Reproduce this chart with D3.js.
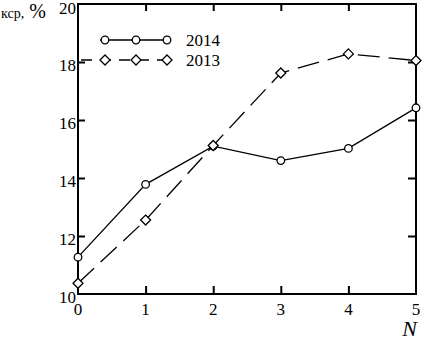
<!DOCTYPE html>
<meta charset="utf-8">
<style>
    body { margin: 0; background: #fff; }
</style>
<svg width="424" height="341" style="font-family: 'Liberation Serif', 'DejaVu Serif', serif;"></svg>
<script src="https://cdn.jsdelivr.net/npm/d3@7/dist/d3.min.js"></script>
<script>
    // data
    var nValues = [0, 1, 2, 3, 4, 5];
    var series2014 = [11.27, 13.78, 15.1, 14.6, 15.02, 16.42];
    var series2013 = [10.37, 12.55, 15.12, 17.62, 18.28, 18.05];
    var yTicks = [10, 12, 14, 16, 18, 20];
    var legendLabels = ["2014", "2013"];

    (function () {
        var svg = d3.select("svg"),
            font = "'Liberation Serif', 'DejaVu Serif', serif",
            left = 78, right = 416, top = 4, bottom = 294,
            x = d3.scaleLinear().domain([0, 5]).range([left, right]),
            y = d3.scaleLinear().domain([10, 20]).range([bottom, top]);

        // frame
        svg.append("rect")
            .attr("x", left).attr("y", top)
            .attr("width", right - left).attr("height", bottom - top)
            .attr("fill", "none").attr("stroke", "#000").attr("stroke-width", 2);

        // inward ticks on all four sides
        var inner = nValues.slice(1, -1), innerY = yTicks.slice(1, -1);
        function clean(g) { g.select(".domain").remove(); g.selectAll("line").attr("stroke-width", 2); }
        svg.append("g").attr("transform", "translate(0," + bottom + ")")
            .call(d3.axisTop(x).tickValues(inner).tickSize(8).tickFormat("")).call(clean);
        svg.append("g").attr("transform", "translate(0," + top + ")")
            .call(d3.axisBottom(x).tickValues(inner).tickSize(7).tickFormat("")).call(clean);
        svg.append("g").attr("transform", "translate(" + left + ",0)")
            .call(d3.axisRight(y).tickValues(innerY).tickSize(7).tickFormat("")).call(clean);
        svg.append("g").attr("transform", "translate(" + right + ",0)")
            .call(d3.axisLeft(y).tickValues(innerY).tickSize(8).tickFormat("")).call(clean);

        // tick labels
        svg.append("g").selectAll("text").data(nValues).enter().append("text")
            .attr("x", function (d) { return x(d); })
            .attr("y", 315)
            .attr("text-anchor", "middle")
            .attr("font-family", font).attr("font-size", 17)
            .text(function (d) { return d; });
        svg.append("g").selectAll("text").data(yTicks).enter().append("text")
            .attr("x", 76)
            .attr("y", function (d, i) { return y(d) + (i === yTicks.length - 1 ? 10 : 9); })
            .attr("text-anchor", "end")
            .attr("font-family", font).attr("font-size", 17)
            .text(function (d) { return d; });

        // axis titles
        svg.append("text").attr("x", 417).attr("y", 336)
            .attr("text-anchor", "end").attr("font-family", font)
            .attr("font-size", 22).attr("font-style", "italic")
            .text("N");
        var yt = svg.append("text").attr("x", 1).attr("y", 18).attr("font-family", font);
        yt.append("tspan").attr("font-size", 14).text("кср,");
        yt.append("tspan").attr("font-size", 20).attr("dx", 5).text("%");

        var line = d3.line()
            .x(function (d, i) { return x(nValues[i]); })
            .y(function (d) { return y(d); });

        svg.append("path").datum(series2014)
            .attr("d", line).attr("fill", "none")
            .attr("stroke", "#000").attr("stroke-width", 1.3);
        svg.append("path").datum(series2013)
            .attr("d", line).attr("fill", "none")
            .attr("stroke", "#000").attr("stroke-width", 1.3)
            .attr("stroke-dasharray", "22,9");

        var diamond = function (cx, cy, r) {
            return "M" + cx + "," + (cy - r) + "L" + (cx + r) + "," + cy +
                "L" + cx + "," + (cy + r) + "L" + (cx - r) + "," + cy + "Z";
        };

        svg.append("g").selectAll("circle").data(series2014).enter().append("circle")
            .attr("cx", function (d, i) { return x(nValues[i]); })
            .attr("cy", function (d) { return y(d); })
            .attr("r", 3.8)
            .attr("fill", "#fff").attr("stroke", "#000").attr("stroke-width", 1.3);
        svg.append("g").selectAll("path").data(series2013).enter().append("path")
            .attr("d", function (d, i) { return diamond(x(nValues[i]), y(d), 5); })
            .attr("fill", "#fff").attr("stroke", "#000").attr("stroke-width", 1.3);

        // legend
        var lgX = [105, 136, 167];
        svg.append("line").attr("x1", 100).attr("x2", 167).attr("y1", 40).attr("y2", 40)
            .attr("stroke", "#000").attr("stroke-width", 1.3);
        svg.append("line").attr("x1", 81).attr("x2", 167).attr("y1", 60).attr("y2", 60)
            .attr("stroke", "#000").attr("stroke-width", 1.3)
            .attr("stroke-dasharray", "11,8");
        svg.append("g").selectAll("circle").data(lgX).enter().append("circle")
            .attr("cx", function (d) { return d; }).attr("cy", 40).attr("r", 3.8)
            .attr("fill", "#fff").attr("stroke", "#000").attr("stroke-width", 1.3);
        svg.append("g").selectAll("path").data(lgX).enter().append("path")
            .attr("d", function (d) { return diamond(d, 60, 5); })
            .attr("fill", "#fff").attr("stroke", "#000").attr("stroke-width", 1.3);
        svg.append("g").selectAll("text").data(legendLabels).enter().append("text")
            .attr("x", 186).attr("y", function (d, i) { return 46 + i * 20; })
            .attr("font-family", font).attr("font-size", 17)
            .text(function (d) { return d; });
    })();
</script>
